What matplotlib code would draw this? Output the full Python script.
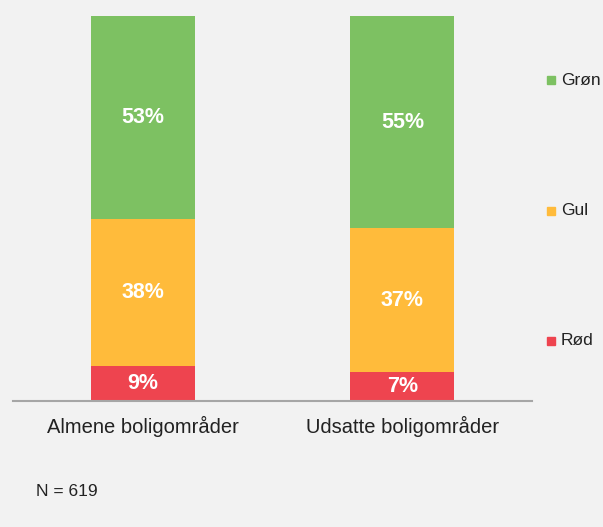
import numpy as np
import matplotlib.pyplot as plt
from matplotlib.patches import Rectangle

categories = ['Almene boligområder', 'Udsatte boligområder']
series = ['Rød', 'Gul', 'Grøn']
# shares in percent (labels shown rounded)
roed = [9.0, 7.4]
gul = [38.2, 37.4]
groen = [52.8, 55.2]
colors = ['#ee444f', '#ffbb3b', '#7dc162']
bg = '#f2f2f2'

plt.rcParams['font.family'] = ['Liberation Sans', 'DejaVu Sans']

fig = plt.figure(figsize=(6.03, 5.27), dpi=100, facecolor=bg)
ax = fig.add_axes([0.0216, 0.240, 0.861, 0.7296])
ax.set_facecolor(bg)

x = np.arange(len(categories))
bottom = np.zeros(len(categories))
for name, vals, c in zip(series, [roed, gul, groen], colors):
    vals = np.array(vals, dtype=float)
    ax.bar(x, vals, 0.4, bottom=bottom, color=c, label=name)
    for xi, b, v in zip(x, bottom, vals):
        ax.text(xi, b + v / 2, f'{v:.0f}%', ha='center', va='center',
                color='white', fontsize=15.5, fontweight='bold')
    bottom += vals

ax.set_xlim(-0.5, 1.5)
ax.set_ylim(0, 100)
for s in ['top', 'right', 'left']:
    ax.spines[s].set_visible(False)
ax.spines['bottom'].set_color('#a6a6a6')
ax.spines['bottom'].set_linewidth(1.5)
ax.set_yticks([])
ax.set_xticks(x)
ax.set_xticklabels(categories, fontsize=14.5, color='#222222')
ax.tick_params(axis='x', length=0, pad=11)

# legend entries, spaced like the original
leg_y = [0.353, 0.600, 0.848]
for name, c, yy in zip(series, colors, leg_y):
    fig.patches.append(Rectangle((0.907, yy - 0.008), 0.0135, 0.0155,
                                 transform=fig.transFigure, color=c))
    fig.text(0.930, yy, name, fontsize=12.5, va='center', color='#222222')

fig.text(0.06, 0.059, 'N = 619', fontsize=12.5, color='#222222')

fig.savefig('out.png', dpi=100, facecolor=bg)
